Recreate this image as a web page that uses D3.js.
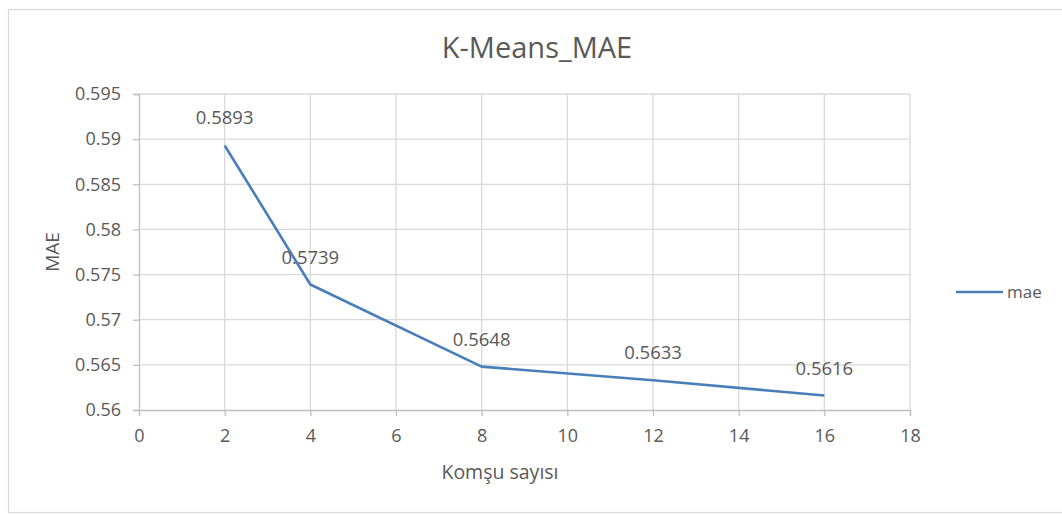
<!DOCTYPE html>
<html>
<head>
<meta charset="utf-8">
<script src="https://cdn.jsdelivr.net/npm/d3@7"></script>
<style>
  body { margin: 0; background: #fff; }
  text { font-family: "Open Sans", "Noto Sans", sans-serif; fill: #595959; }
</style>
</head>
<body>
<div id="chart"></div>
<script>
// values
var neighbours = [2, 4, 8, 12, 16];
var maeValues = [0.5893, 0.5739, 0.5648, 0.5633, 0.5616];
var xTicks = [0, 2, 4, 6, 8, 10, 12, 14, 16, 18];
var yTicks = [0.56, 0.565, 0.57, 0.575, 0.58, 0.585, 0.59, 0.595];
var seriesName = 'mae';

var width = 1062;
var height = 515;
var margin = { left: 139, right: 152, top: 94, bottom: 105 };

var svg = d3.select('#chart')
  .append('svg')
  .attr('width', width)
  .attr('height', height);

// chart frame
svg.append('rect')
  .attr('x', 8.5).attr('y', 9.5)
  .attr('width', 1070).attr('height', 503)
  .attr('fill', 'none')
  .attr('stroke', '#d9d9d9')
  .attr('stroke-width', 1.2);

var x = d3.scaleLinear()
  .domain([0, 18])
  .range([margin.left, width - margin.right]);

var y = d3.scaleLinear()
  .domain([0.56, 0.595])
  .range([height - margin.bottom, margin.top]);

// gridlines
svg.append('g')
  .selectAll('line.vgrid')
  .data(xTicks.slice(1))
  .enter().append('line')
  .attr('x1', function (d) { return x(d); })
  .attr('x2', function (d) { return x(d); })
  .attr('y1', y(0.595))
  .attr('y2', y(0.56))
  .attr('stroke', '#d9d9d9')
  .attr('stroke-width', 1.3);

svg.append('g')
  .selectAll('line.hgrid')
  .data(yTicks.slice(1))
  .enter().append('line')
  .attr('x1', x(0))
  .attr('x2', x(18))
  .attr('y1', function (d) { return y(d); })
  .attr('y2', function (d) { return y(d); })
  .attr('stroke', '#d9d9d9')
  .attr('stroke-width', 1.3);

// axes
var xAxis = d3.axisBottom(x)
  .tickValues(xTicks)
  .tickSize(6)
  .tickPadding(13)
  .tickFormat(d3.format('d'));

var yAxis = d3.axisLeft(y)
  .tickValues(yTicks)
  .tickSize(6)
  .tickPadding(12)
  .tickFormat(function (d) { return String(+d.toFixed(3)); });

var gx = svg.append('g')
  .attr('transform', 'translate(0,' + y(0.56) + ')')
  .call(xAxis);

var gy = svg.append('g')
  .attr('transform', 'translate(' + x(0) + ',0)')
  .call(yAxis);

[gx, gy].forEach(function (g) {
  g.select('.domain').attr('stroke', '#bfbfbf').attr('stroke-width', 1.3);
  g.selectAll('.tick line').attr('stroke', '#bfbfbf').attr('stroke-width', 1.3);
  g.selectAll('.tick text')
    .style('font-family', '"Open Sans", "Noto Sans", sans-serif')
    .style('font-size', '18px')
    .attr('fill', '#595959');
});

// series line
var points = neighbours.map(function (k, i) { return { k: k, v: maeValues[i] }; });

var line = d3.line()
  .x(function (d) { return x(d.k); })
  .y(function (d) { return y(d.v); });

svg.append('path')
  .datum(points)
  .attr('d', line)
  .attr('fill', 'none')
  .attr('stroke', '#4a7ebb')
  .attr('stroke-width', 2.6)
  .attr('stroke-linejoin', 'round');

// data labels
svg.append('g')
  .selectAll('text')
  .data(points)
  .enter().append('text')
  .attr('x', function (d) { return x(d.k); })
  .attr('y', function (d) { return y(d.v) - 21; })
  .attr('text-anchor', 'middle')
  .style('font-size', '18.5px')
  .attr('fill', '#404040')
  .text(function (d) { return d.v.toFixed(4); });

// titles
svg.append('text')
  .attr('x', 537)
  .attr('y', 58)
  .attr('text-anchor', 'middle')
  .style('font-size', '29px')
  .text('K-Means_MAE');

svg.append('text')
  .attr('transform', 'translate(59,252) rotate(-90)')
  .attr('text-anchor', 'middle')
  .style('font-size', '19px')
  .attr('fill', '#404040')
  .text('MAE');

svg.append('text')
  .attr('x', 500)
  .attr('y', 479)
  .attr('text-anchor', 'middle')
  .style('font-size', '19.5px')
  .text('Komşu sayısı');

// legend
svg.append('line')
  .attr('x1', 956).attr('x2', 1003)
  .attr('y1', 292).attr('y2', 292)
  .attr('stroke', '#4a7ebb')
  .attr('stroke-width', 2.6);

svg.append('text')
  .attr('x', 1007)
  .attr('y', 298)
  .style('font-size', '17px')
  .text(seriesName);
</script>
</body>
</html>
